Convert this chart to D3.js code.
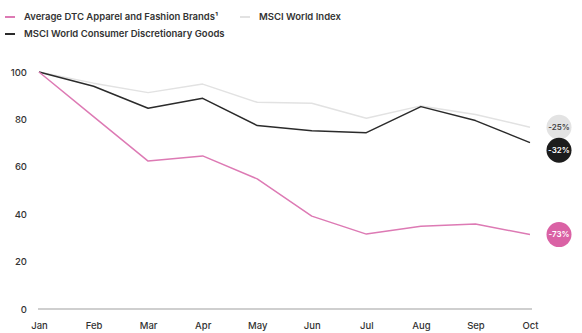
<!DOCTYPE html>
<html>
<head>
<meta charset="utf-8">
<script src="https://cdn.jsdelivr.net/npm/d3@7"></script>
<style>
  html, body { margin: 0; padding: 0; background: #fff; }
  svg { display: block; font-family: Inter, "Noto Sans", sans-serif; }
</style>
</head>
<body>
<svg id="chart" width="582" height="333"></svg>
<script>
// Monthly index values (January = 100)
const months = ["Jan", "Feb", "Mar", "Apr", "May", "Jun", "Jul", "Aug", "Sep", "Oct"];
const dtcBrands = [100, 81.2, 62.4, 64.6, 54.9, 39.2, 31.6, 34.9, 35.9, 31.4];
const msciWorld = [100, 95.3, 91.3, 94.9, 87.2, 86.8, 80.5, 85.7, 82.1, 76.7];
const msciConsDisc = [100, 94.0, 84.7, 88.9, 77.4, 75.2, 74.4, 85.4, 79.5, 70.2];
const yTicks = [0, 20, 40, 60, 80, 100];
const seriesNames = ["Average DTC Apparel and Fashion Brands¹", "MSCI World Index", "MSCI World Consumer Discretionary Goods"];
const endLabels = ["-73%", "-25%", "-32%"];

const series = [
  { name: seriesNames[0], values: dtcBrands, color: "#dd7ab4", badge: "#da62a5", text: "#fff", label: endLabels[0] },
  { name: seriesNames[1], values: msciWorld, color: "#e2e2e2", badge: "#e3e3e3", text: "#444", label: endLabels[1] },
  { name: seriesNames[2], values: msciConsDisc, color: "#2b2b2b", badge: "#1c1c1c", text: "#fff", label: endLabels[2] }
];

const svg = d3.select("#chart");

const x = d3.scalePoint().domain(months).range([39, 530]);
const y = d3.scaleLinear().domain([0, 100]).range([309, 72]);

// y-axis tick labels
const yAxis = svg.append("g")
  .attr("transform", "translate(27,0)")
  .call(d3.axisLeft(y).tickValues(yTicks).tickSize(0).tickPadding(0));
yAxis.select(".domain").remove();
yAxis.selectAll("text")
  .attr("font-family", "Inter, 'Noto Sans', sans-serif")
  .attr("font-size", 9.5)
  .attr("font-weight", 500)
  .attr("fill", "#333");

// x-axis month labels
const xAxis = svg.append("g")
  .attr("transform", "translate(0,322)")
  .call(d3.axisBottom(x).tickSize(0).tickPadding(0));
xAxis.select(".domain").remove();
xAxis.selectAll("text")
  .attr("font-family", "Inter, 'Noto Sans', sans-serif")
  .attr("font-size", 9.5)
  .attr("font-weight", 500)
  .attr("fill", "#333");

// zero baseline
svg.append("line")
  .attr("x1", x(months[0]) - 1).attr("x2", x(months[months.length - 1]) + 2)
  .attr("y1", y(0)).attr("y2", y(0))
  .attr("stroke", "#cfcfcf").attr("stroke-width", 2);

const line = d3.line()
  .x((d, i) => x(months[i]))
  .y(d => y(d));

// draw light series first so darker lines sit on top
[1, 2, 0].forEach(k => {
  const s = series[k];
  svg.append("path")
    .datum(s.values)
    .attr("fill", "none")
    .attr("stroke", s.color)
    .attr("stroke-width", 1.5)
    .attr("stroke-linejoin", "round")
    .attr("d", line);
});

// end-of-line value badges, nudged apart when they collide
const r = 12.5;
const badges = series.map(s => ({ s, cy: y(s.values[s.values.length - 1]) }))
  .sort((a, b) => a.cy - b.cy);
for (let i = 1; i < badges.length; i++) {
  const minGap = 23;
  if (badges[i].cy - badges[i - 1].cy < minGap) badges[i].cy = badges[i - 1].cy + minGap;
}
const badgeX = 559;
badges.forEach(b => {
  svg.append("circle")
    .attr("cx", badgeX).attr("cy", b.cy).attr("r", r)
    .attr("fill", b.s.badge);
  svg.append("text")
    .attr("x", badgeX).attr("y", b.cy)
    .attr("dy", "0.35em")
    .attr("text-anchor", "middle")
    .attr("font-size", 8)
    .attr("font-weight", 600)
    .attr("fill", b.s.text)
    .text(b.s.label);
});

// legend
const legendItems = [
  { s: series[0], lx: 5, ly: 17 },
  { s: series[1], lx: 240, ly: 17 },
  { s: series[2], lx: 5, ly: 34 }
];
legendItems.forEach(it => {
  svg.append("line")
    .attr("x1", it.lx).attr("x2", it.lx + 10)
    .attr("y1", it.ly).attr("y2", it.ly)
    .attr("stroke", it.s.color).attr("stroke-width", 2);
  svg.append("text")
    .attr("x", it.lx + 19).attr("y", it.ly)
    .attr("dy", "0.35em")
    .attr("font-size", 9.5)
    .attr("font-weight", 600)
    .attr("fill", "#333")
    .text(it.s.name);
});
</script>
</body>
</html>
